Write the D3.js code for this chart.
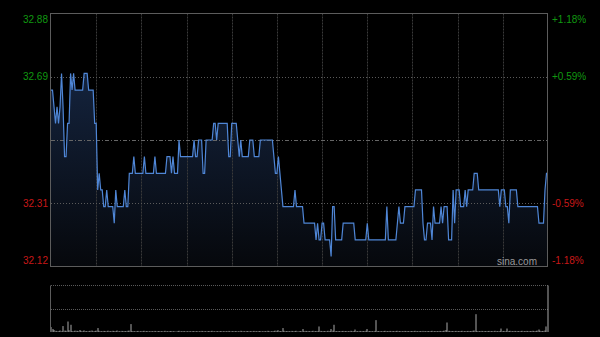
<!DOCTYPE html>
<html>
<head>
<meta charset="utf-8">
<script src="https://cdn.jsdelivr.net/npm/d3@7"></script>
<style>
  html, body { margin: 0; padding: 0; background: #000; }
  svg { display: block; }
  text { font-family: "Liberation Sans", Arial, sans-serif; font-size: 10px; }
</style>
</head>
<body>
<div id="chart"></div>
<script>
var width = 600, height = 337;

// previous close and axis labels
var prevClose = 32.50;
var priceTicks = [32.88, 32.69, 32.31, 32.12];
var priceLabels = ["32.88", "32.69", "32.31", "32.12"];
var pctLabels = ["+1.18%", "+0.59%", "-0.59%", "-1.18%"];

// one price per minute, 9:30-12:00 then 13:00-16:00 (331 points)
var prices = [
  32.65, 32.65, 32.60, 32.55, 32.60, 32.55, 32.60, 32.70, 32.60, 32.45,
  32.45, 32.55, 32.55, 32.70, 32.65, 32.70, 32.65, 32.65, 32.65, 32.65,
  32.65, 32.65, 32.70, 32.70, 32.70, 32.65, 32.65, 32.65, 32.65, 32.55,
  32.55, 32.35, 32.40, 32.35, 32.35, 32.30, 32.30, 32.35, 32.30, 32.30,
  32.30, 32.30, 32.25, 32.35, 32.30, 32.30, 32.30, 32.30, 32.30, 32.35,
  32.30, 32.30, 32.40, 32.40, 32.40, 32.45, 32.40, 32.40, 32.40, 32.40,
  32.40, 32.40, 32.45, 32.40, 32.40, 32.40, 32.40, 32.40, 32.40, 32.45,
  32.40, 32.40, 32.40, 32.40, 32.40, 32.40, 32.40, 32.45, 32.45, 32.45,
  32.40, 32.45, 32.40, 32.40, 32.40, 32.50, 32.45, 32.45, 32.45, 32.45,
  32.45, 32.45, 32.45, 32.45, 32.45, 32.50, 32.45, 32.45, 32.50, 32.50,
  32.50, 32.40, 32.40, 32.50, 32.50, 32.50, 32.50, 32.50, 32.55, 32.55,
  32.50, 32.55, 32.55, 32.55, 32.55, 32.55, 32.55, 32.55, 32.45, 32.45,
  32.55, 32.55, 32.55, 32.55, 32.50, 32.45, 32.50, 32.45, 32.45, 32.45,
  32.45, 32.45, 32.50, 32.50, 32.50, 32.45, 32.45, 32.45, 32.45, 32.50,
  32.50, 32.50, 32.50, 32.50, 32.50, 32.50, 32.50, 32.50, 32.45, 32.40,
  32.40, 32.45, 32.40, 32.35, 32.30, 32.30, 32.30, 32.30, 32.30, 32.30,
  32.30, 32.30, 32.35, 32.30, 32.30, 32.30, 32.30, 32.30, 32.25, 32.25,
  32.25, 32.25, 32.25, 32.25, 32.25, 32.25, 32.20, 32.25, 32.20, 32.20,
  32.25, 32.25, 32.20, 32.20, 32.20, 32.20, 32.15, 32.30, 32.30, 32.20,
  32.20, 32.20, 32.20, 32.20, 32.25, 32.25, 32.25, 32.25, 32.25, 32.25,
  32.25, 32.25, 32.20, 32.20, 32.20, 32.20, 32.20, 32.20, 32.20, 32.20,
  32.25, 32.20, 32.20, 32.20, 32.20, 32.20, 32.20, 32.20, 32.20, 32.20,
  32.20, 32.20, 32.20, 32.30, 32.20, 32.20, 32.20, 32.20, 32.20, 32.20,
  32.25, 32.30, 32.25, 32.25, 32.25, 32.30, 32.30, 32.30, 32.30, 32.30,
  32.30, 32.30, 32.35, 32.35, 32.35, 32.35, 32.35, 32.25, 32.20, 32.20,
  32.25, 32.25, 32.25, 32.20, 32.30, 32.25, 32.25, 32.25, 32.25, 32.30,
  32.25, 32.30, 32.30, 32.30, 32.20, 32.20, 32.20, 32.35, 32.25, 32.35,
  32.35, 32.35, 32.30, 32.30, 32.30, 32.35, 32.30, 32.35, 32.35, 32.35,
  32.35, 32.40, 32.40, 32.40, 32.35, 32.35, 32.35, 32.35, 32.35, 32.35,
  32.35, 32.35, 32.35, 32.35, 32.35, 32.35, 32.35, 32.35, 32.30, 32.35,
  32.35, 32.35, 32.30, 32.30, 32.25, 32.35, 32.35, 32.35, 32.35, 32.35,
  32.30, 32.30, 32.30, 32.30, 32.30, 32.30, 32.30, 32.30, 32.30, 32.30,
  32.30, 32.30, 32.30, 32.30, 32.25, 32.25, 32.25, 32.25, 32.35, 32.40,
  32.40
];

// volume per minute (arbitrary units)
var volumes = [
  50, 30, 20, 12, 8, 10, 15, 9, 60, 14,
  12, 106, 18, 73, 10, 8, 14, 12, 9, 20,
  11, 8, 16, 10, 7, 9, 12, 15, 8, 10,
  14, 40, 12, 9, 8, 11, 10, 7, 13, 9,
  8, 12, 10, 9, 15, 8, 7, 11, 9, 10,
  8, 12, 14, 80, 10, 9, 7, 8, 11, 6,
  9, 8, 12, 7, 10, 6, 8, 9, 7, 11,
  6, 8, 10, 7, 9, 6, 12, 8, 7, 9,
  10, 7, 8, 6, 9, 12, 7, 8, 10, 6,
  8, 7, 9, 6, 10, 8, 7, 9, 6, 8,
  11, 7, 9, 6, 8, 10, 7, 12, 8, 6,
  9, 7, 8, 10, 6, 9, 7, 8, 11, 6,
  8, 9, 7, 10, 6, 8, 12, 7, 9, 6,
  10, 8, 7, 9, 6, 11, 8, 7, 9, 10,
  6, 8, 9, 7, 12, 8, 6, 9, 10, 14,
  12, 18, 10, 9, 40, 12, 8, 10, 9, 7,
  11, 8, 9, 12, 7, 10, 8, 30, 9, 11,
  8, 10, 7, 9, 12, 8, 10, 9, 56, 11,
  8, 10, 9, 7, 12, 10, 30, 14, 73, 9,
  8, 10, 7, 9, 11, 8, 10, 7, 9, 12,
  8, 10, 25, 9, 7, 11, 8, 10, 9, 12,
  30, 8, 10, 9, 7, 11, 120, 10, 8, 9,
  7, 10, 12, 8, 9, 11, 7, 10, 8, 9,
  12, 8, 10, 7, 9, 11, 8, 10, 7, 9,
  10, 8, 12, 9, 7, 10, 8, 11, 9, 7,
  10, 8, 9, 12, 7, 10, 8, 9, 11, 8,
  10, 14, 20, 96, 12, 8, 10, 9, 7, 11,
  8, 10, 9, 12, 7, 10, 8, 11, 9, 10,
  12, 15, 180, 10, 8, 9, 11, 7, 10, 8,
  9, 11, 8, 10, 7, 12, 9, 8, 10, 35,
  9, 11, 8, 35, 10, 12, 8, 9, 11, 7,
  10, 8, 9, 12, 7, 10, 11, 8, 9, 10,
  12, 9, 10, 14, 25, 12, 10, 11, 15, 56,
  470
];

// minute index of each half-hour gridline
var gridMinutes = [30, 60, 90, 120, 150, 180, 210, 240, 270, 300];

var plotLeft = 51, plotRight = 548, plotTop = 13.5, plotBottom = 266.5;
var volTop = 285.5, volBottom = 332;

var svg = d3.select("#chart").append("svg")
    .attr("width", width)
    .attr("height", height)
    .style("background", "#000");

var x = d3.scaleLinear().domain([0, 330]).range([plotLeft, plotRight]);
var y = d3.scaleLinear().domain([32.12, 32.88]).range([plotBottom, plotTop]);
var yv = d3.scaleLinear().domain([0, d3.max(volumes)]).range([volBottom, volTop]);

var defs = svg.append("defs");
var grad = defs.append("linearGradient")
    .attr("id", "areaFill")
    .attr("gradientUnits", "userSpaceOnUse")
    .attr("x1", 0).attr("y1", y(32.70))
    .attr("x2", 0).attr("y2", plotBottom);
grad.append("stop").attr("offset", "0%").attr("stop-color", "#14233d");
grad.append("stop").attr("offset", "100%").attr("stop-color", "#06080c");

// area under the price line
var area = d3.area()
    .x((d, i) => x(i))
    .y0(plotBottom)
    .y1(d => y(d));

var line = d3.line()
    .x((d, i) => x(i))
    .y(d => y(d));

svg.append("path")
    .datum(prices)
    .attr("d", area)
    .attr("fill", "url(#areaFill)");

// vertical grid
svg.append("g")
    .selectAll("line")
    .data(gridMinutes)
    .enter().append("line")
    .attr("x1", d => Math.round(x(d)) + 0.5)
    .attr("x2", d => Math.round(x(d)) + 0.5)
    .attr("y1", plotTop)
    .attr("y2", plotBottom)
    .attr("stroke", "#3a3a3a")
    .attr("stroke-dasharray", "2,1");

// horizontal grid
svg.append("g")
    .selectAll("line")
    .data([32.69, 32.31])
    .enter().append("line")
    .attr("x1", plotLeft)
    .attr("x2", plotRight)
    .attr("y1", d => Math.round(y(d)) + 0.5)
    .attr("y2", d => Math.round(y(d)) + 0.5)
    .attr("stroke", "#5a5a5a")
    .attr("stroke-dasharray", "1,2");

// prev close line
svg.append("line")
    .attr("x1", plotLeft)
    .attr("x2", plotRight)
    .attr("y1", Math.round(y(prevClose)) + 0.5)
    .attr("y2", Math.round(y(prevClose)) + 0.5)
    .attr("stroke", "#666")
    .attr("stroke-dasharray", "4,2,1,2");

svg.append("path")
    .datum(prices)
    .attr("d", line)
    .attr("fill", "none")
    .attr("stroke", "#4f86d6")
    .attr("stroke-width", 1.2);

// frame
svg.append("rect")
    .attr("x", plotLeft - 0.5)
    .attr("y", plotTop)
    .attr("width", plotRight - plotLeft)
    .attr("height", plotBottom - plotTop)
    .attr("fill", "none")
    .attr("stroke", "#5c5c5c");

// labels
svg.append("g")
    .selectAll("text")
    .data(priceTicks)
    .enter().append("text")
    .attr("x", 48)
    .attr("y", (d, i) => y(d) + (i == 0 ? 6 : i == 3 ? -6 : 0))
    .attr("dy", "0.35em")
    .attr("text-anchor", "end")
    .attr("fill", d => d > prevClose ? "#109810" : "#c81818")
    .text((d, i) => priceLabels[i]);

svg.append("g")
    .selectAll("text")
    .data(priceTicks)
    .enter().append("text")
    .attr("x", 552)
    .attr("y", (d, i) => y(d) + (i == 0 ? 6 : i == 3 ? -6 : 0))
    .attr("dy", "0.35em")
    .attr("fill", d => d > prevClose ? "#109810" : "#c81818")
    .text((d, i) => pctLabels[i]);

svg.append("text")
    .attr("x", 537)
    .attr("y", 261)
    .attr("dy", "0.35em")
    .attr("text-anchor", "end")
    .attr("fill", "#9a9a9a")
    .text("sina.com");

// volume panel
svg.append("g")
    .selectAll("line")
    .data([volTop, 309.5])
    .enter().append("line")
    .attr("x1", plotLeft)
    .attr("x2", plotRight)
    .attr("y1", d => d)
    .attr("y2", d => d)
    .attr("stroke", "#5a5a5a")
    .attr("stroke-dasharray", "1,1");

svg.append("g")
    .selectAll("rect")
    .data(volumes)
    .enter().append("rect")
    .attr("x", (d, i) => Math.round(x(i)) - 0.5)
    .attr("width", 1)
    .attr("y", d => yv(d))
    .attr("height", d => volBottom - yv(d))
    .attr("fill", "#a8a8a8");

svg.append("line")
    .attr("x1", plotLeft - 0.5).attr("x2", plotLeft - 0.5)
    .attr("y1", volTop).attr("y2", volBottom)
    .attr("stroke", "#5c5c5c");
</script>
</body>
</html>
